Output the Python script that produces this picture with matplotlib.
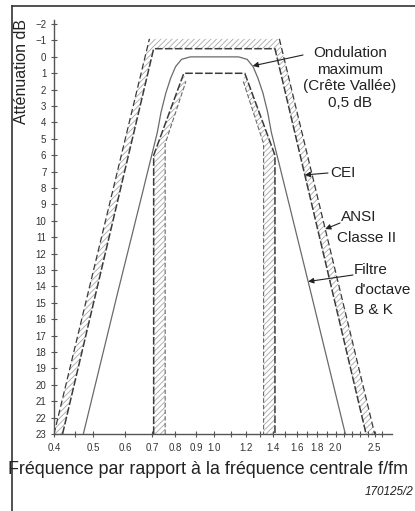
import matplotlib
matplotlib.use("Agg")
import matplotlib.pyplot as plt
from matplotlib.patches import Polygon
from matplotlib.lines import Line2D

plt.rcParams['font.family'] = ['Liberation Sans', 'DejaVu Sans']
plt.rcParams['hatch.linewidth'] = 0.6

# ---------------- data ----------------
x_ticks = [0.4, 0.5, 0.6, 0.7, 0.8, 0.9, 1.0, 1.2, 1.4, 1.6, 1.8, 2.0, 2.5]
x_tick_labels = ['0.4', '0.5', '0.6', '0.7', '0.8', '0.9', '1.0', '1.2', '1.4',
                 '1.6', '1.8', '2.0', '2.5']
x_minor_ticks = [0.45, 1.1, 1.3, 1.5, 1.7, 1.9, 2.1, 2.2, 2.3, 2.4, 2.6]
y_ticks = list(range(-2, 24))
y_tick_labels = ['\u22122', '\u22121'] + [str(v) for v in range(0, 24)]

# CEI limit (minimum attenuation)
cei_freq = [0.42, 0.707, 1.414, 2.38]
cei_att = [23, -0.5, -0.5, 23]
# ANSI class II limit
ansi_freq = [0.40, 0.69, 1.45, 2.50]
ansi_att = [23, -1.1, -1.1, 23]
# maximum attenuation limit (inner)
inner_freq = [0.707, 0.707, 0.84, 1.19, 1.414, 1.414]
inner_att = [23, 6.0, 1.0, 1.0, 6.0, 23]
inner2_left_freq = [0.755, 0.755, 0.85]
inner2_left_att = [23, 5.3, 1.5]
inner2_right_freq = [1.18, 1.325, 1.325]
inner2_right_att = [1.5, 5.3, 23]
# B & K octave filter
bk_freq = [0.473, 0.574, 0.660, 0.722, 0.737, 0.758, 0.779, 0.801, 0.829, 0.871,
           1.0, 1.149, 1.206, 1.248, 1.283, 1.320, 1.357, 1.385, 1.516, 1.741, 2.114]
bk_att = [23, 14.5, 8.5, 4.6, 3.4, 2.2, 1.3, 0.6, 0.15, 0.0,
          0.0, 0.0, 0.15, 0.6, 1.3, 2.2, 3.4, 4.6, 8.5, 14.5, 23]

W, H = 415, 511
fig = plt.figure(figsize=(W / 100, H / 100), dpi=100)
ax = fig.add_axes([54 / W, 1 - 434 / H, (392 - 54) / W, (434 - 20) / H])
ax.set_xscale('log')
ax.set_xlim(0.4, 2.76)
ax.set_ylim(23, -2.25)

dark = '#3a3a3a'
mid = '#6a6a6a'
hatch_col = '#a8a8a8'

# outer hatched band between CEI and ANSI
outer_poly = list(zip(cei_freq, cei_att)) + list(zip(ansi_freq[::-1], ansi_att[::-1]))
ax.add_patch(Polygon(outer_poly, closed=True, facecolor='none', edgecolor=hatch_col,
                     hatch='//////', linewidth=0))
# inner hatched bands
left_band = [(inner_freq[0], inner_att[0]), (inner_freq[1], inner_att[1]),
             (inner_freq[2], inner_att[2])] + list(zip(inner2_left_freq[::-1], inner2_left_att[::-1]))
right_band = [(inner_freq[3], inner_att[3]), (inner_freq[4], inner_att[4]),
              (inner_freq[5], inner_att[5])] + list(zip(inner2_right_freq[::-1], inner2_right_att[::-1]))
for poly in (left_band, right_band):
    ax.add_patch(Polygon(poly, closed=True, facecolor='none', edgecolor=hatch_col,
                         hatch='//////', linewidth=0))

ax.plot(cei_freq, cei_att, color=dark, lw=1.1, ls=(0, (5, 1.5)))
ax.plot(ansi_freq[:2], ansi_att[:2], color=dark, lw=0.9, ls=(0, (5, 2.5)))
ax.plot(ansi_freq[2:], ansi_att[2:], color=dark, lw=0.9, ls=(0, (5, 2.5)))
ax.plot(inner_freq, inner_att, color=dark, lw=1.1, ls=(0, (5, 1.5)))
ax.plot(inner2_left_freq, inner2_left_att, color=mid, lw=0.8, ls=(0, (4, 2)))
ax.plot(inner2_right_freq, inner2_right_att, color=mid, lw=0.8, ls=(0, (4, 2)))
ax.plot(bk_freq, bk_att, color=mid, lw=0.9)

# axes styling
for s in ('top', 'right'):
    ax.spines[s].set_visible(False)
for s in ('left', 'bottom'):
    ax.spines[s].set_color('#555555')
    ax.spines[s].set_linewidth(1.0)
ax.set_xticks(x_ticks)
ax.set_xticklabels(x_tick_labels)
ax.set_xticks(x_minor_ticks, minor=True)
ax.set_xticklabels([], minor=True)
ax.set_yticks(y_ticks)
ax.set_yticklabels(y_tick_labels)
ax.tick_params(axis='both', which='both', direction='inout', length=5, width=0.8,
               colors='#555555', labelsize=7, labelcolor='#333333')
ax.tick_params(axis='x', pad=4)
ax.tick_params(axis='y', pad=3)

# labels
fig.text(22 / W, 1 - 72 / H, 'Atténuation dB', rotation=90, ha='center', va='center',
         fontsize=11.5, color='#222222')
fig.text(8 / W, 1 - 470 / H, 'Fréquence par rapport à la fréquence centrale f/fm',
         ha='left', va='center', fontsize=12.9, color='#222222')
fig.text(413 / W, 1 - 492 / H, '170125/2', ha='right', va='center', fontsize=8.5,
         style='italic', color='#222222')

# annotations
fig.text(350 / W, 1 - 78 / H, 'Ondulation\nmaximum\n(Crête Vallée)\n0,5 dB', ha='center',
         va='center', multialignment='center', fontsize=11, linespacing=1.25, color='#222222')
fig.text(330 / W, 1 - 173 / H, 'CEI', ha='left', va='center', fontsize=11, color='#222222')
fig.text(359 / W, 1 - 217 / H, 'ANSI', ha='center', va='center', fontsize=11, color='#222222')
fig.text(367 / W, 1 - 238 / H, 'Classe II', ha='center', va='center', fontsize=11, color='#222222')
fig.text(354 / W, 1 - 270 / H, 'Filtre', ha='left', va='center', fontsize=11, color='#222222')
fig.text(354 / W, 1 - 290 / H, "d'octave", ha='left', va='center', fontsize=11, color='#222222')
fig.text(354 / W, 1 - 310 / H, 'B & K', ha='left', va='center', fontsize=11, color='#222222')

arrow = dict(arrowstyle='-|>', color='#222222', lw=0.8, mutation_scale=8, shrinkA=0, shrinkB=0)
ax.annotate('', xy=(1.245, 0.55), xycoords='data', xytext=(303, H - 55),
            textcoords='figure pixels', arrowprops=arrow)
ax.annotate('', xy=(1.677, 7.2), xycoords='data', xytext=(328, H - 173),
            textcoords='figure pixels', arrowprops=arrow)
ax.annotate('', xy=(1.884, 10.5), xycoords='data', xytext=(340, H - 223),
            textcoords='figure pixels', arrowprops=arrow)
ax.annotate('', xy=(1.709, 13.7), xycoords='data', xytext=(353, H - 275),
            textcoords='figure pixels', arrowprops=arrow)

# frame lines
fig.add_artist(Line2D([12 / W, 12 / W], [0, 1 - 6 / H], color='#333333', lw=1.2))
fig.add_artist(Line2D([12 / W, 1], [1 - 6 / H, 1 - 6 / H], color='#333333', lw=1.2))

fig.savefig('out.png', dpi=100, facecolor='white')
